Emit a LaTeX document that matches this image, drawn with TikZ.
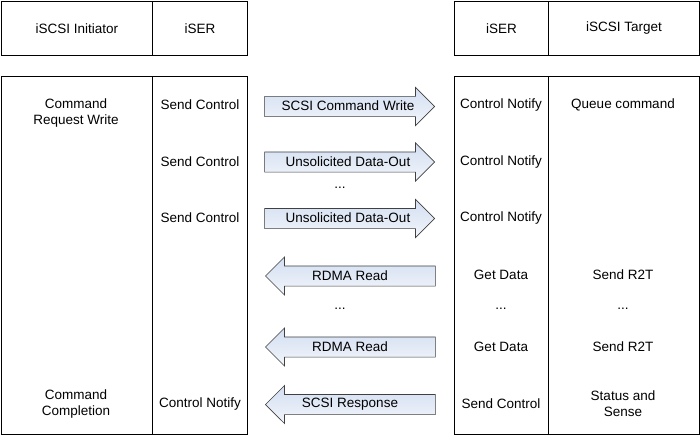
\documentclass[tikz,border=0pt]{standalone}
\usepackage{fontspec}
\setmainfont{Liberation Sans}
\usetikzlibrary{shapes.arrows}
\definecolor{arrtop}{HTML}{D2DEF1}
\definecolor{arrbot}{HTML}{F3F6FB}
\begin{document}
\begin{tikzpicture}[x=1pt,y=-1pt,
  cell/.style={draw=black,line width=0.8pt,rectangle,inner sep=0pt,anchor=north west},
  txt/.style={font=\fontsize{13.5}{16}\selectfont,align=center,inner sep=0pt},
  flow/.style={single arrow,draw=black!75,line width=0.6pt,top color=arrtop,bottom color=arrbot,
    minimum height=170pt,single arrow head extend=9pt,inner xsep=0pt,inner ysep=3.5pt,
    text height=9.5pt,text depth=3pt},
  rflow/.style={flow,anchor=tip},
  lflow/.style={flow,shape border rotate=180,anchor=tip}]
\useasboundingbox (0,0) rectangle (700,441);
% header cells
\node[cell,minimum width=151pt,minimum height=54pt] (hI) at (1,1) {};
\node[cell,minimum width=95pt,minimum height=54pt] (hIS) at (152,1) {};
\node[cell,minimum width=94pt,minimum height=54pt] (hTS) at (454,1) {};
\node[cell,minimum width=151pt,minimum height=54pt] (hT) at (548,1) {};
\node[txt] (thI) at (hI.center) {iSCSI Initiator};
\node[txt] (thIS) at (hIS.center) {iSER};
\node[txt] (thTS) at (hTS.center) {iSER};
\node[txt] (thT) at (hT.center) {iSCSI Target};
% body cells
\node[cell,minimum width=151pt,minimum height=358pt] (bI) at (1,76) {};
\node[cell,minimum width=95pt,minimum height=358pt] (bIS) at (152,76) {};
\node[cell,minimum width=94pt,minimum height=358pt] (bTS) at (454,76) {};
\node[cell,minimum width=151pt,minimum height=358pt] (bT) at (548,76) {};
% initiator column
\node[txt] (i1) at (76,113) {Command\\Request Write};
\node[txt] (i6) at (76,404) {Command\\Completion};
% initiator iSER column
\node[txt] (s1) at (200,105) {Send Control};
\node[txt] (s2) at (200,162) {Send Control};
\node[txt] (s3) at (200,218) {Send Control};
\node[txt] (s6) at (200,404) {Control Notify};
% arrows
\node[rflow] (a1) at (435,106.5) {};
\node[rflow] (a2) at (435,162) {};
\node[rflow] (a3) at (435,218.5) {};
\node[lflow] (a4) at (265,276) {};
\node[lflow] (a5) at (265,347) {};
\node[lflow] (a6) at (265,404.5) {};
\node[txt] (l1) at (348,105.5) {SCSI Command Write};
\node[txt] (l2) at (348,161.5) {Unsolicited Data-Out};
\node[txt] (l3) at (348,218) {Unsolicited Data-Out};
\node[txt] (l4) at (350,275.5) {RDMA Read};
\node[txt] (l5) at (350,346.5) {RDMA Read};
\node[txt] (l6) at (350,404) {SCSI Response};
\node[txt] (d1) at (340,188) {...};
\node[txt] (d2) at (340,309) {...};
% target iSER column
\node[txt] (t1) at (501,105) {Control Notify};
\node[txt] (t2) at (501,162) {Control Notify};
\node[txt] (t3) at (501,218) {Control Notify};
\node[txt] (t4) at (501,275) {Get Data};
\node[txt] (d3) at (501,309) {...};
\node[txt] (t5) at (501,347) {Get Data};
\node[txt] (t6) at (501,404) {Send Control};
% target column
\node[txt] (q1) at (623,105) {Queue command};
\node[txt] (q4) at (623,275) {Send R2T};
\node[txt] (d4) at (623,309) {...};
\node[txt] (q5) at (623,347) {Send R2T};
\node[txt] (q6) at (623,404) {Status and\\Sense};
\end{tikzpicture}
\end{document}
